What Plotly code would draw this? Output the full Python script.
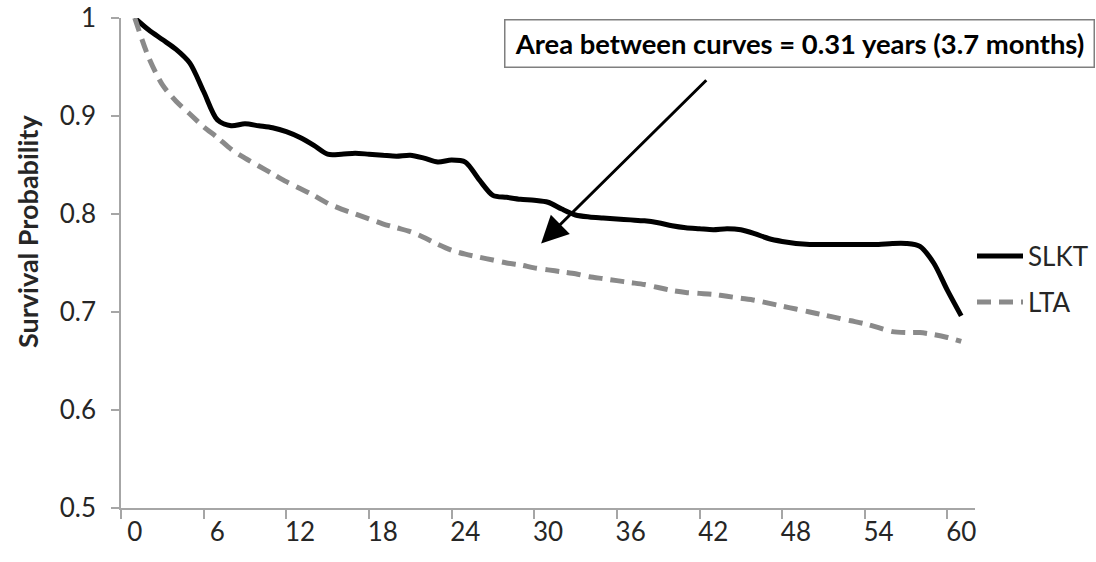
import plotly.graph_objects as go

months = list(range(0, 61))

slkt = [1.000, 0.988, 0.978, 0.968, 0.954, 0.925, 0.896, 0.890, 0.892, 0.890,
        0.888, 0.884, 0.878, 0.870, 0.861, 0.861, 0.862, 0.861, 0.860, 0.859,
        0.860, 0.857, 0.853, 0.855, 0.853, 0.835, 0.819, 0.817, 0.815, 0.814,
        0.812, 0.805, 0.799, 0.797, 0.796, 0.795, 0.794, 0.793, 0.791, 0.788,
        0.786, 0.785, 0.784, 0.785, 0.784, 0.780, 0.775, 0.772, 0.770, 0.769,
        0.769, 0.769, 0.769, 0.769, 0.769, 0.770, 0.770, 0.767, 0.750, 0.722,
        0.696]

lta = [1.000, 0.960, 0.932, 0.915, 0.902, 0.889, 0.878, 0.866, 0.857, 0.849,
       0.841, 0.833, 0.826, 0.819, 0.811, 0.805, 0.800, 0.795, 0.790, 0.786,
       0.782, 0.776, 0.769, 0.763, 0.759, 0.756, 0.753, 0.750, 0.748, 0.745,
       0.743, 0.741, 0.739, 0.736, 0.734, 0.732, 0.730, 0.728, 0.725, 0.722,
       0.720, 0.719, 0.718, 0.716, 0.714, 0.712, 0.709, 0.706, 0.703, 0.700,
       0.697, 0.694, 0.691, 0.688, 0.684, 0.680, 0.679, 0.679, 0.677, 0.674,
       0.670]

x_tickvals = [0, 6, 12, 18, 24, 30, 36, 42, 48, 54, 60]
x_ticktext = [str(v) for v in x_tickvals]
y_tickvals = [0.5, 0.6, 0.7, 0.8, 0.9, 1.0]
y_ticktext = ["0.5", "0.6", "0.7", "0.8", "0.9", "1"]

FONT = "Lato"
AXIS_GRAY = "#a6a6a6"
TEXT = "#262626"

fig = go.Figure()
fig.add_trace(go.Scatter(
    x=months, y=slkt, mode="lines", name="SLKT",
    line=dict(color="#000000", width=5, shape="spline", smoothing=0.8),
    legend="legend",
))
fig.add_trace(go.Scatter(
    x=months, y=lta, mode="lines", name="LTA",
    line=dict(color="#8a8a8a", width=5, dash="14px,8px", shape="spline", smoothing=0.8),
    legend="legend2",
))

L, R, T, B = 121, 121, 18, 54
W, H = 1096, 562
pw = W - L - R
ph = H - T - B

def px_x(px):
    return (px - L) / pw

def px_y(py):
    return (H - B - py) / ph

fig.update_layout(
    width=W, height=H,
    margin=dict(l=L, r=R, t=T, b=B, pad=0, autoexpand=False),
    paper_bgcolor="white", plot_bgcolor="white",
    font=dict(family=FONT, size=26, color=TEXT),
    showlegend=True,
    legend=dict(x=px_x(972), y=px_y(256), xanchor="left", yanchor="middle",
                bgcolor="rgba(0,0,0,0)", font=dict(size=26, color=TEXT),
                itemwidth=46),
    legend2=dict(x=px_x(972), y=px_y(302), xanchor="left", yanchor="middle",
                 bgcolor="rgba(0,0,0,0)", font=dict(size=26, color=TEXT),
                 itemwidth=46),
    xaxis=dict(
        range=[-1, 61], showgrid=False, zeroline=False, automargin=False,
        showline=True, linecolor=AXIS_GRAY, linewidth=1.5,
        tickmode="array", tickvals=x_tickvals, ticktext=x_ticktext,
        ticks="", tickfont=dict(size=26, color=TEXT),
        minor=dict(tickmode="linear", tick0=-1, dtick=6, ticks="outside",
                   ticklen=9, tickcolor=AXIS_GRAY, tickwidth=1.5, showgrid=False),
    ),
    yaxis=dict(
        range=[0.5, 1.0], showgrid=False, zeroline=False, automargin=False,
        showline=True, linecolor=AXIS_GRAY, linewidth=1.5,
        tickmode="array", tickvals=y_tickvals, ticktext=y_ticktext,
        ticks="outside", ticklen=8, tickcolor=AXIS_GRAY, tickwidth=1.5,
        tickfont=dict(size=26, color=TEXT), ticklabelstandoff=10,
    ),
    annotations=[
        dict(text="<b>Survival Probability</b>", textangle=-90,
             xref="paper", yref="paper", x=px_x(27), y=px_y(232),
             xanchor="center", yanchor="middle", showarrow=False,
             font=dict(size=27, color=TEXT)),
        dict(text="<b>Area between curves = 0.31 years (3.7 months)</b>",
             xref="paper", yref="paper", x=px_x(504), y=px_y(19),
             xanchor="left", yanchor="top", showarrow=False,
             width=586, height=44, align="center", valign="middle",
             bordercolor="#7f7f7f", borderwidth=1.5, bgcolor="white",
             font=dict(size=27.4, color="#000000")),
        dict(text="", xref="x", yref="y", x=29.5, y=0.770,
             axref="x", ayref="y", ax=41.6, ay=0.938,
             showarrow=True, arrowhead=2, arrowsize=1.8, arrowwidth=3,
             arrowcolor="#000000", standoff=0),
    ],
)

fig.write_html(
    "out.html",
    config={"displayModeBar": False},
    post_script="document.body.style.margin='0px';document.body.style.padding='0px';",
)
